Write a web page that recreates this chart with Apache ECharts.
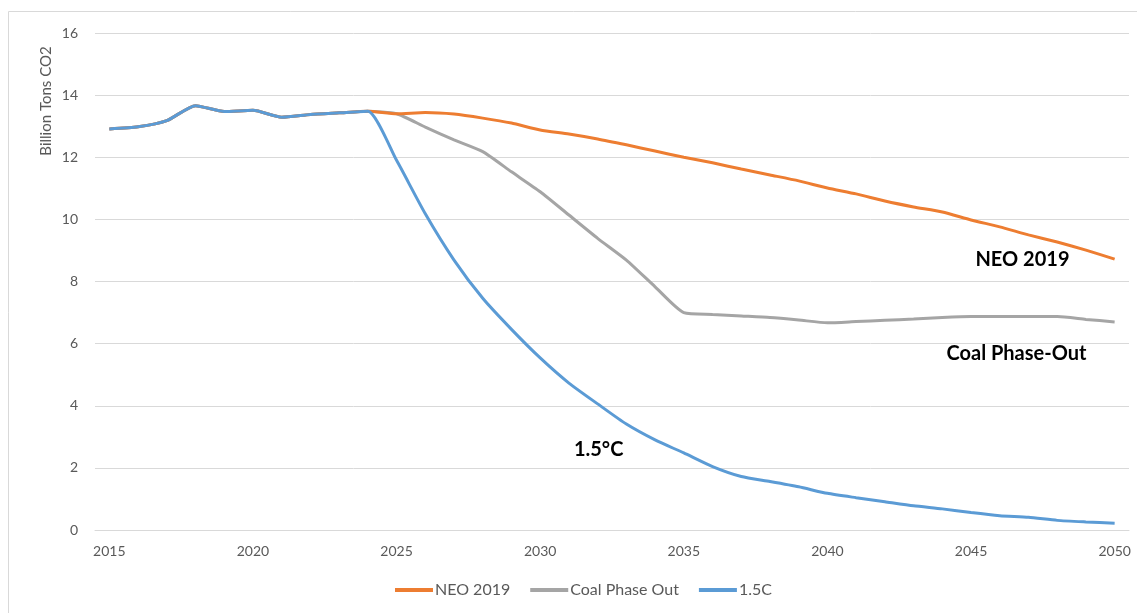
<!DOCTYPE html>
<html>
<head>
<meta charset="utf-8">
<script src="https://cdn.jsdelivr.net/npm/echarts@6/dist/echarts.min.js"></script>
<style>
html,body{margin:0;padding:0;background:#fff;}
#c{width:1137px;height:613px;}
</style>
</head>
<body>
<div id="c"></div>
<script>
const years = [];
for (let y = 2015; y <= 2050; y++) years.push(String(y));

const neo2019 = [12.91,12.98,13.18,13.66,13.47,13.51,13.29,13.38,13.43,13.48,
  13.40,13.44,13.39,13.26,13.10,12.88,12.75,12.59,12.40,12.20,
  12.00,11.82,11.62,11.43,11.24,11.01,10.82,10.59,10.40,10.24,
  9.98,9.76,9.50,9.27,9.01,8.72];
const coalPhaseOut = [12.91,12.98,13.18,13.66,13.47,13.51,13.29,13.38,13.43,13.48,
  13.40,12.97,12.56,12.18,11.53,10.89,10.14,9.39,8.69,7.83,
  7.00,6.94,6.89,6.84,6.76,6.67,6.71,6.75,6.79,6.84,
  6.87,6.87,6.87,6.87,6.78,6.70];
const c15 = [12.91,12.98,13.18,13.66,13.47,13.51,13.29,13.38,13.43,13.48,
  11.90,10.18,8.69,7.46,6.46,5.54,4.73,4.06,3.41,2.90,
  2.48,2.04,1.72,1.56,1.39,1.18,1.04,0.91,0.78,0.68,
  0.56,0.46,0.41,0.31,0.26,0.22];

const seriesNames = ['NEO 2019', 'Coal Phase Out', '1.5C'];
const annotationTexts = ['NEO 2019', 'Coal Phase-Out', '1.5°C'];
const annotationYears = ['2047', '2047', '2032'];
const annotationValues = [8.7, 5.67, 2.58];

const colors = ['#ED7D31', '#A5A5A5', '#5B9BD5'];
const font = 'Lato, "Open Sans", sans-serif';

function ann(i, dx) {
  return {
    coord: [annotationYears[i], annotationValues[i]],
    symbol: 'rect', symbolSize: 0,
    label: {
      show: true, position: 'inside', offset: [dx, 0],
      formatter: annotationTexts[i],
      color: '#000', fontWeight: 'bold', fontSize: 20, fontFamily: font
    }
  };
}

const chart = echarts.init(document.getElementById('c'));
chart.setOption({
  animation: false,
  color: colors,
  textStyle: { fontFamily: font },
  grid: { left: 95, right: 8, top: 33, bottom: 83 },
  graphic: [
    { type: 'rect', shape: { x: 8.5, y: 11.5, width: 1300, height: 800 },
      style: { fill: 'none', stroke: '#d9d9d9', lineWidth: 1 }, silent: true },
    { type: 'text', x: 46, y: 101, rotation: Math.PI / 2,
      style: { text: 'Billion Tons CO2', fill: '#595959', fontSize: 15, fontFamily: font,
        textAlign: 'center', textVerticalAlign: 'middle' } }
  ],
  legend: {
    bottom: 10, left: 390,
    icon: 'rect', itemWidth: 38, itemHeight: 4, itemGap: 20,
    textStyle: { color: '#595959', fontSize: 16, fontFamily: font, padding: [0, 0, 0, -3] },
    data: seriesNames
  },
  xAxis: {
    type: 'category', data: years, boundaryGap: true,
    axisLine: { show: true, lineStyle: { color: '#d9d9d9' } },
    axisTick: { show: false },
    axisLabel: { interval: 4, color: '#595959', fontSize: 14, margin: 14, fontFamily: font },
    splitLine: { show: false }
  },
  yAxis: {
    type: 'value', min: 0, max: 16, interval: 2,
    axisLine: { show: false }, axisTick: { show: false },
    axisLabel: { color: '#595959', fontSize: 14, margin: 17, fontFamily: font },
    splitLine: { lineStyle: { color: '#d9d9d9', width: 1 } }
  },
  series: [
    { name: seriesNames[0], type: 'line', data: neo2019, smooth: 0.2, symbol: 'none',
      lineStyle: { width: 3, color: colors[0] }, z: 3,
      markPoint: { silent: true, data: [ann(0, -6)] } },
    { name: seriesNames[1], type: 'line', data: coalPhaseOut, smooth: 0.2, symbol: 'none',
      lineStyle: { width: 3, color: colors[1] }, z: 2,
      markPoint: { silent: true, data: [ann(1, -12)] } },
    { name: seriesNames[2], type: 'line', data: c15, smooth: 0.2, symbol: 'none',
      lineStyle: { width: 3, color: colors[2] }, z: 4,
      markPoint: { silent: true, data: [ann(2, 1)] } }
  ]
});
</script>
</body>
</html>
